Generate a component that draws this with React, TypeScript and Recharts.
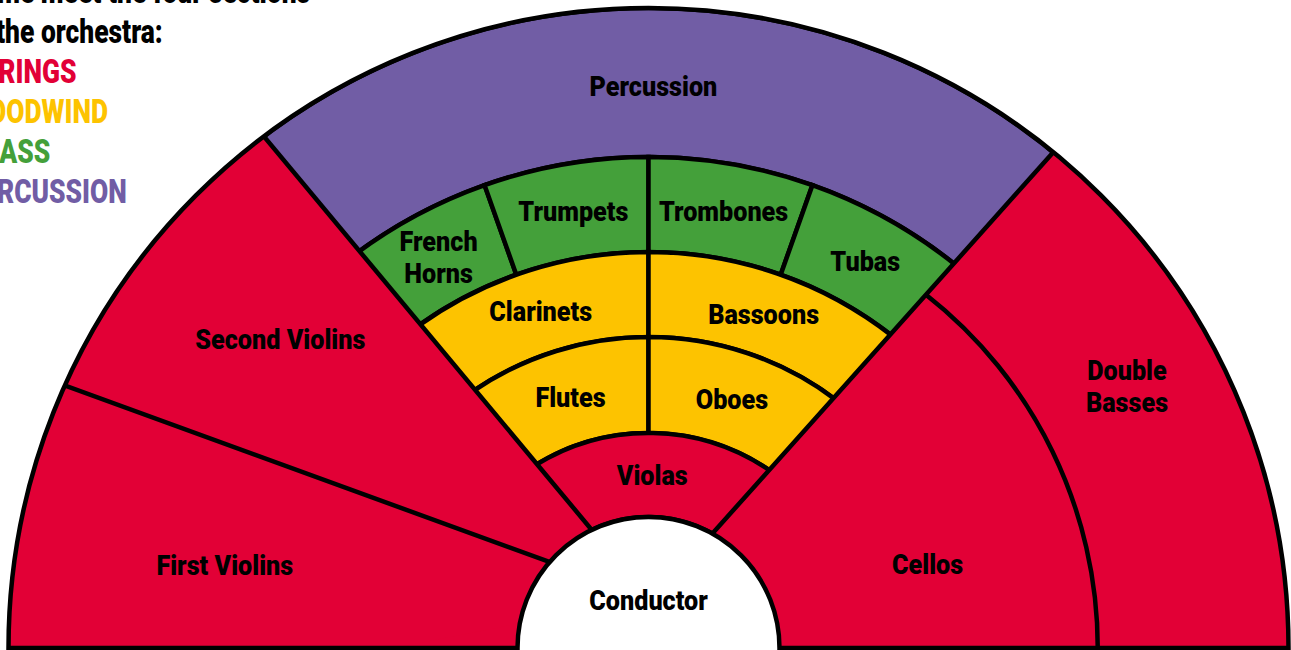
import { PieChart, Pie } from "recharts"

const RED = "#E20036"
const YELLOW = "#FDC300"
const GREEN = "#44A03A"
const PURPLE = "#715DA5"
const INK = "#000"
const PAPER = "#fff"
const LINE = 4.5
const FONT = "Roboto, 'DejaVu Sans', sans-serif"

// centre of the stage (bottom middle of the page)
const CX = 648.5
const CY = 648

// the two string wedges are cut by straight lines that meet a little above the centre
const LEFT_CY = 598
const RIGHT_CY = 605

// how wide each section is, in degrees, going round from the left
const percussion = [{ name: "Percussion", value: 81 }]
const brass = [
  { name: "French Horns", value: 17.5 },
  { name: "Trumpets", value: 19.5 },
  { name: "Trombones", value: 19.5 },
  { name: "Tubas", value: 19.5 },
]
const clarinetsRow = [
  { name: "Clarinets", value: 35.5 },
  { name: "Bassoons", value: 38 },
]
const flutesRow = [
  { name: "Flutes", value: 34.5 },
  { name: "Oboes", value: 37 },
]
const violas = [{ name: "Violas", value: 66.5 }]
const firstViolins = [{ name: "First Violins", value: 31.1 }]
const secondViolins = [{ name: "Second Violins", value: 30.2 }]
const cellos = [{ name: "Cellos", value: 79.8 }]
const doubleBasses = [{ name: "Double Basses", value: 57.4 }]
const bassDivider = [{ name: "Cellos | Double Basses", value: 51.9 }]
const conductor = [{ name: "Conductor", value: 360 }]
const stage = [{ name: "Strings", value: 180 }]
const outside = [{ name: "outside", value: 360 }]

const heading = ["Come meet the four sections", "of the orchestra:"]
const families = ["STRINGS", "WOODWIND", "BRASS", "PERCUSSION"]
const familyColor: Record<string, string> = {
  STRINGS: RED,
  WOODWIND: YELLOW,
  BRASS: GREEN,
  PERCUSSION: PURPLE,
}

const twoLines = new Set(["French Horns", "Double Basses"])

const span = (d: { value: number }[]) => d.reduce((s, x) => s + x.value, 0)

const RAD = Math.PI / 180

function sectionLabel(radius?: number) {
  return (p: any) => {
    const name: string = p.name ?? p.payload?.name
    const r = radius ?? (p.innerRadius + p.outerRadius) / 2
    const x = p.cx + r * Math.cos(-p.midAngle * RAD)
    const y = p.cy + r * Math.sin(-p.midAngle * RAD)
    const lines = twoLines.has(name) ? name.split(" ") : [name]
    const lh = 32
    return (
      <text
        transform={`translate(${x},${y}) scale(0.9,1)`}
        textAnchor="middle"
        fontFamily={FONT}
        fontWeight={900}
        fontSize={28}
        fill={INK}
      >
        {lines.map((l, i) => (
          <tspan key={l} x={0} dy={i === 0 ? 10 - ((lines.length - 1) * lh) / 2 : lh}>
            {l}
          </tspan>
        ))}
      </text>
    )
  }
}

export default function App() {
  return (
    <div
      style={{
        position: "absolute",
        left: 0,
        top: 0,
        width: 1291,
        height: 650,
        overflow: "hidden",
        background: PAPER,
      }}
    >
      <PieChart width={1291} height={650} margin={{ top: 0, right: 0, bottom: 0, left: 0 }}>
        {/* string floor under everything */}
        <Pie
          data={stage}
          dataKey="value"
          cx={CX}
          cy={CY}
          innerRadius={131}
          outerRadius={640}
          startAngle={180}
          endAngle={0}
          fill={RED}
          stroke="none"
          isAnimationActive={false}
        />

        {/* centre rows, back to front */}
        <Pie
          data={percussion}
          dataKey="value"
          cx={CX}
          cy={CY}
          innerRadius={491}
          outerRadius={640}
          startAngle={130}
          endAngle={130 - span(percussion)}
          fill={PURPLE}
          stroke={INK}
          strokeWidth={LINE}
          label={sectionLabel(562)}
          labelLine={false}
          isAnimationActive={false}
        />
        <Pie
          data={brass}
          dataKey="value"
          cx={CX}
          cy={CY}
          innerRadius={396}
          outerRadius={491}
          startAngle={127}
          endAngle={127 - span(brass)}
          fill={GREEN}
          stroke={INK}
          strokeWidth={LINE}
          label={sectionLabel()}
          labelLine={false}
          isAnimationActive={false}
        />
        <Pie
          data={clarinetsRow}
          dataKey="value"
          cx={CX}
          cy={CY}
          innerRadius={311}
          outerRadius={396}
          startAngle={125.5}
          endAngle={125.5 - span(clarinetsRow)}
          fill={YELLOW}
          stroke={INK}
          strokeWidth={LINE}
          label={sectionLabel()}
          labelLine={false}
          isAnimationActive={false}
        />
        <Pie
          data={flutesRow}
          dataKey="value"
          cx={CX}
          cy={CY}
          innerRadius={215}
          outerRadius={311}
          startAngle={124.5}
          endAngle={124.5 - span(flutesRow)}
          fill={YELLOW}
          stroke={INK}
          strokeWidth={LINE}
          label={sectionLabel()}
          labelLine={false}
          isAnimationActive={false}
        />
        <Pie
          data={violas}
          dataKey="value"
          cx={CX}
          cy={CY}
          innerRadius={131}
          outerRadius={215}
          startAngle={122}
          endAngle={122 - span(violas)}
          fill={RED}
          stroke={INK}
          strokeWidth={LINE}
          label={sectionLabel()}
          labelLine={false}
          isAnimationActive={false}
        />

        {/* violins on the left */}
        <Pie
          data={firstViolins}
          dataKey="value"
          cx={CX}
          cy={LEFT_CY}
          innerRadius={80}
          outerRadius={770}
          startAngle={160 + span(firstViolins)}
          endAngle={160}
          fill={RED}
          stroke="none"
          label={sectionLabel()}
          labelLine={false}
          isAnimationActive={false}
        />
        <Pie
          data={secondViolins}
          dataKey="value"
          cx={CX}
          cy={LEFT_CY}
          innerRadius={85}
          outerRadius={815}
          startAngle={160}
          endAngle={160 - span(secondViolins)}
          fill={RED}
          stroke={INK}
          strokeWidth={LINE}
          label={sectionLabel()}
          labelLine={false}
          isAnimationActive={false}
        />

        {/* cellos and basses on the right */}
        <Pie
          data={cellos}
          dataKey="value"
          cx={CX}
          cy={RIGHT_CY}
          innerRadius={0}
          outerRadius={700}
          startAngle={48.2}
          endAngle={48.2 - span(cellos)}
          fill={RED}
          stroke={INK}
          strokeWidth={LINE}
          label={sectionLabel(282)}
          labelLine={false}
          isAnimationActive={false}
        />
        <Pie
          data={bassDivider}
          dataKey="value"
          cx={CX}
          cy={CY}
          innerRadius={447}
          outerRadius={451.5}
          startAngle={0}
          endAngle={span(bassDivider)}
          fill={INK}
          stroke="none"
          isAnimationActive={false}
        />
        <Pie
          data={doubleBasses}
          dataKey="value"
          cx={CX}
          cy={CY}
          innerRadius={451}
          outerRadius={640}
          startAngle={0}
          endAngle={span(doubleBasses)}
          fill="none"
          stroke="none"
          label={sectionLabel()}
          labelLine={false}
          isAnimationActive={false}
        />

        {/* trim everything outside the hall, then the conductor's podium */}
        <Pie
          data={outside}
          dataKey="value"
          cx={CX}
          cy={CY}
          innerRadius={640}
          outerRadius={1300}
          startAngle={0}
          endAngle={360}
          fill={PAPER}
          stroke="none"
          isAnimationActive={false}
        />
        <Pie
          data={conductor}
          dataKey="value"
          cx={CX}
          cy={CY}
          innerRadius={0}
          outerRadius={131}
          startAngle={270}
          endAngle={-90}
          fill={PAPER}
          stroke="none"
          label={sectionLabel(48)}
          labelLine={false}
          isAnimationActive={false}
        />
        <Pie
          data={stage}
          dataKey="value"
          cx={CX}
          cy={CY}
          innerRadius={131}
          outerRadius={640}
          startAngle={180}
          endAngle={0}
          fill="none"
          stroke={INK}
          strokeWidth={LINE}
          isAnimationActive={false}
        />
      </PieChart>

      <div
        style={{
          position: "absolute",
          left: -35,
          top: -28,
          transform: "scaleX(0.8)",
          transformOrigin: "0 0",
          fontFamily: FONT,
          fontWeight: 900,
          fontSize: 33,
          lineHeight: "40px",
          whiteSpace: "nowrap",
        }}
      >
        {heading.map((h) => (
          <div key={h} style={{ color: INK }}>
            {h}
          </div>
        ))}
        {families.map((f) => (
          <div key={f} style={{ color: familyColor[f] }}>
            {f}
          </div>
        ))}
      </div>
    </div>
  )
}
